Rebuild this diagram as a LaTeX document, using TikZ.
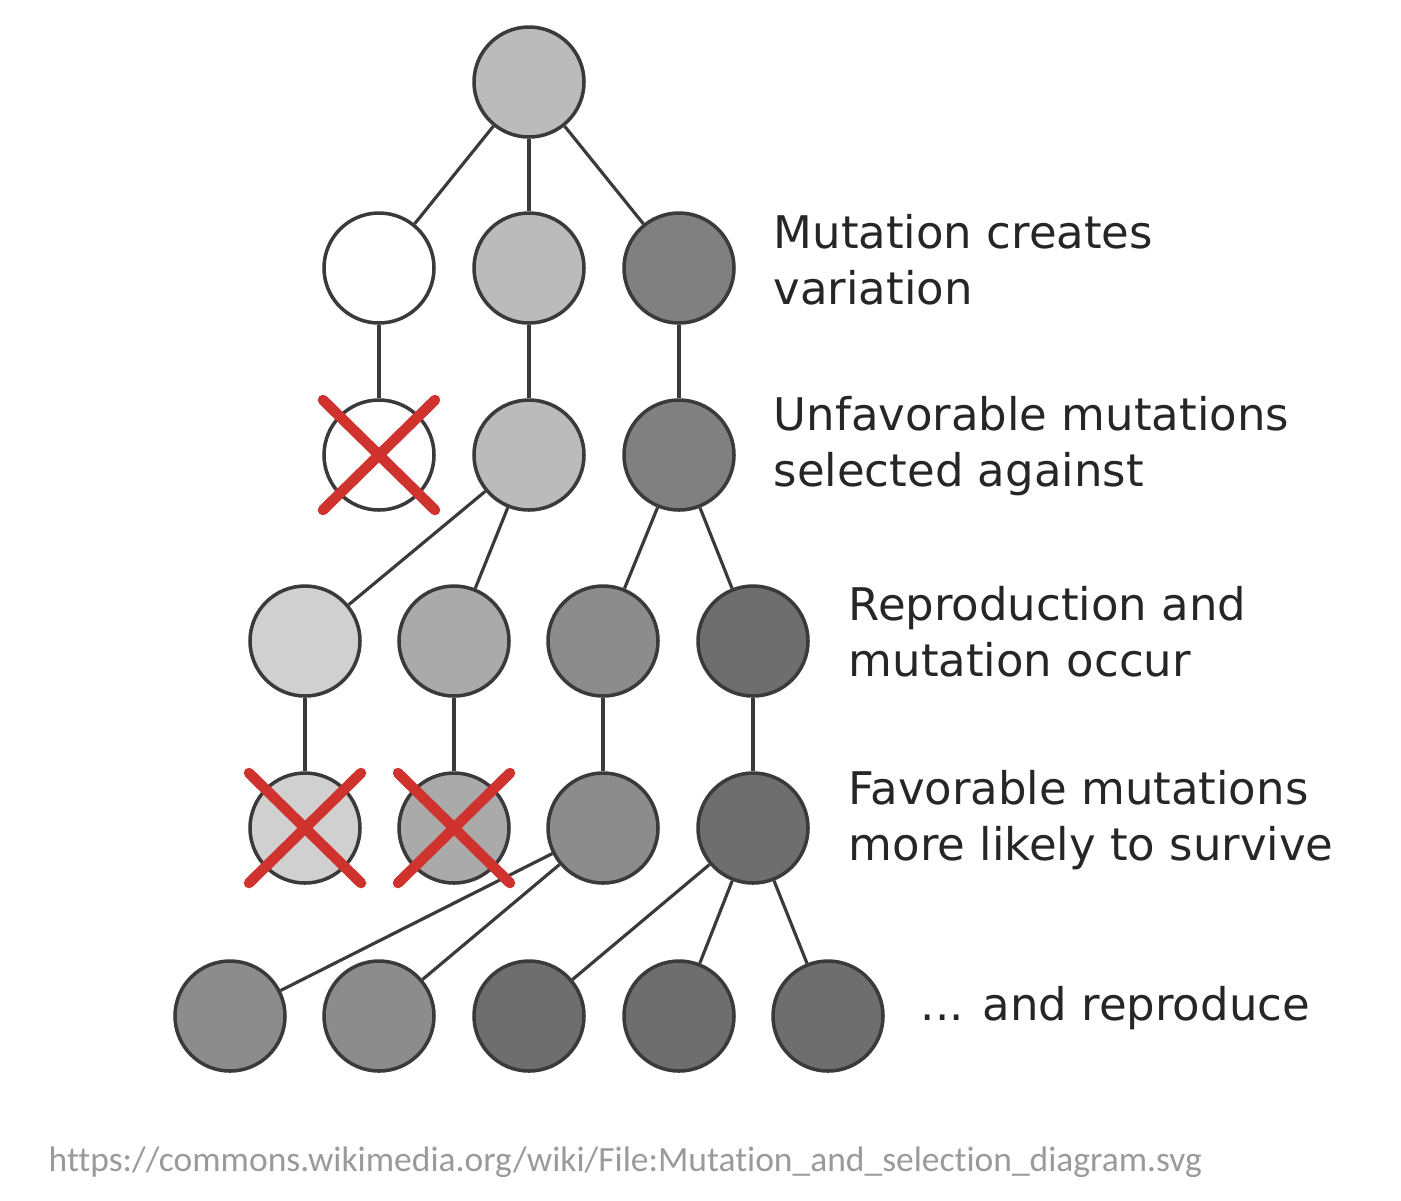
\documentclass[tikz,border=0pt]{standalone}
\usepackage{fontspec}
\setmainfont{DejaVu Sans}
\newfontfamily\urlfont[Ligatures=NoCommon]{Carlito}
\usepackage{xcolor}
\definecolor{vstroke}{HTML}{3a3a3a}
\definecolor{vred}{HTML}{d0322d}
\definecolor{vlight}{HTML}{bbbbbb}
\definecolor{vdark}{HTML}{808080}
\definecolor{vpale}{HTML}{d0d0d0}
\definecolor{vmid}{HTML}{aaaaaa}
\definecolor{vgray}{HTML}{8c8c8c}
\definecolor{vdeep}{HTML}{6e6e6e}
\definecolor{vtext}{HTML}{262626}
\definecolor{vurl}{HTML}{9a9a9a}

\begin{document}
\begin{tikzpicture}[
		cell/.style={circle, draw=vstroke, line width=1pt, minimum size=1.1cm, inner sep=0pt},
		link/.style={draw=vstroke, line width=0.9pt},
		killmark/.style={draw=vred, line width=3pt, line cap=round},
		caption/.style={anchor=west, align=left, inner sep=0pt, text=vtext, font=\fontsize{12.8}{15.9}\selectfont}
	]
		\useasboundingbox (0,0) rectangle (14.01,-12);
		% generation 0
		\node[cell, fill=vlight] (a) at (5.29,-0.82) {};
		% generation 1
		\node[cell, fill=white] (b1) at (3.79,-2.68) {};
		\node[cell, fill=vlight] (b2) at (5.29,-2.68) {};
		\node[cell, fill=vdark] (b3) at (6.79,-2.68) {};
		% generation 2
		\node[cell, fill=white] (c1) at (3.79,-4.55) {};
		\node[cell, fill=vlight] (c2) at (5.29,-4.55) {};
		\node[cell, fill=vdark] (c3) at (6.79,-4.55) {};
		% generation 3
		\node[cell, fill=vpale] (d1) at (3.05,-6.41) {};
		\node[cell, fill=vmid] (d2) at (4.54,-6.41) {};
		\node[cell, fill=vgray] (d3) at (6.03,-6.41) {};
		\node[cell, fill=vdeep] (d4) at (7.53,-6.41) {};
		% generation 4
		\node[cell, fill=vpale] (e1) at (3.05,-8.28) {};
		\node[cell, fill=vmid] (e2) at (4.54,-8.28) {};
		\node[cell, fill=vgray] (e3) at (6.03,-8.28) {};
		\node[cell, fill=vdeep] (e4) at (7.53,-8.28) {};
		% generation 5
		\node[cell, fill=vgray] (f1) at (2.30,-10.16) {};
		\node[cell, fill=vgray] (f2) at (3.79,-10.16) {};
		\node[cell, fill=vdeep] (f3) at (5.29,-10.16) {};
		\node[cell, fill=vdeep] (f4) at (6.79,-10.16) {};
		\node[cell, fill=vdeep] (f5) at (8.28,-10.16) {};
		% links
		\draw[link] (a) -- (b1);
		\draw[link] (a) -- (b2);
		\draw[link] (a) -- (b3);
		\draw[link] (b1) -- (c1);
		\draw[link] (b2) -- (c2);
		\draw[link] (b3) -- (c3);
		\draw[link] (c2) -- (d1);
		\draw[link] (c2) -- (d2);
		\draw[link] (c3) -- (d3);
		\draw[link] (c3) -- (d4);
		\draw[link] (d1) -- (e1);
		\draw[link] (d2) -- (e2);
		\draw[link] (d3) -- (e3);
		\draw[link] (d4) -- (e4);
		\draw[link] (e3) -- (f1);
		\draw[link] (e3) -- (f2);
		\draw[link] (e4) -- (f3);
		\draw[link] (e4) -- (f4);
		\draw[link] (e4) -- (f5);
		% crosses
		\draw[killmark] (c1) ++(-.56,.55) -- ++(1.12,-1.1);
		\draw[killmark] (c1) ++(.56,.55) -- ++(-1.12,-1.1);
		\draw[killmark] (e1) ++(-.56,.55) -- ++(1.12,-1.1);
		\draw[killmark] (e1) ++(.56,.55) -- ++(-1.12,-1.1);
		\draw[killmark] (e2) ++(-.56,.55) -- ++(1.12,-1.1);
		\draw[killmark] (e2) ++(.56,.55) -- ++(-1.12,-1.1);
		% captions
		\node[caption] (t1) at (7.73,-2.60) {Mutation creates\\variation};
		\node[caption] (t2) at (7.73,-4.46) {Unfavorable mutations\\selected against};
		\node[caption] (t3) at (8.48,-6.32) {Reproduction and\\mutation occur};
		\node[caption] (t4) at (8.48,-8.20) {Favorable mutations\\more likely to survive};
		\node[caption] (t5) at (9.20,-10.08) {... and reproduce};
		\node[anchor=west, inner sep=0pt, text=vurl, font=\urlfont\fontsize{10.1}{12}\selectfont] (src) at (0.48,-11.62) {https://commons.wikimedia.org/wiki/File:Mutation\_and\_selection\_diagram.svg};
	\end{tikzpicture}
\end{document}
